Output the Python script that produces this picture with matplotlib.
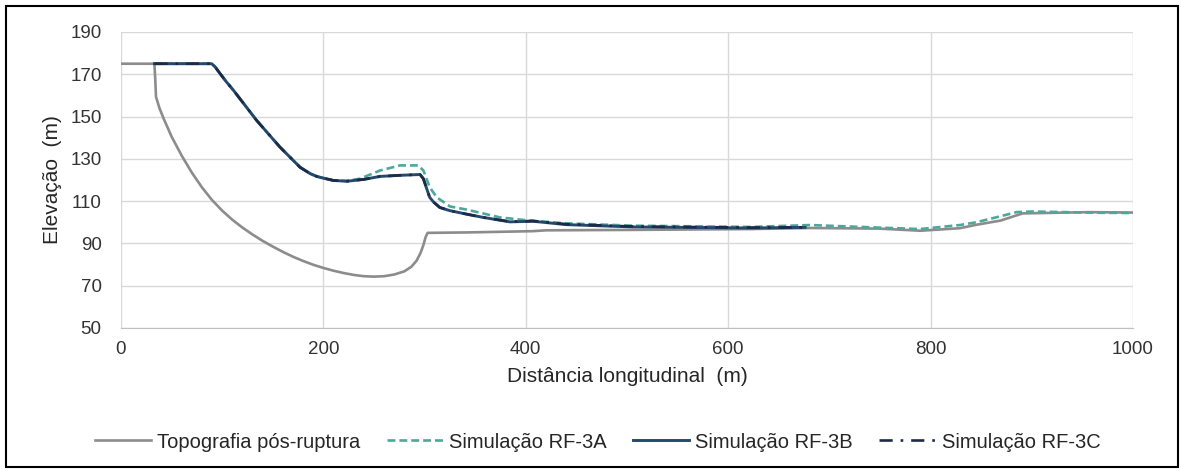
import matplotlib.pyplot as plt
from matplotlib.patches import Rectangle

plt.rcParams['font.family'] = ['Liberation Sans', 'DejaVu Sans']

# Topografia pós-ruptura
topo_x = [0, 33, 33.8, 34.6, 38, 42, 50, 60, 70, 80, 90, 100, 110, 120, 130, 140, 150, 160, 170,
          180, 190, 200, 210, 220, 230, 240, 250, 260, 270, 280, 287, 292, 296, 299, 301, 303,
          342, 407, 420, 506, 622, 681, 750, 790, 829, 845, 869, 891, 957, 1000]
topo_y = [175, 175, 168, 159.3, 154, 149.2, 140.5, 131.5, 123.5, 116.5, 110.5, 105.5, 101.2, 97.5,
          94.2, 91.2, 88.5, 86, 83.7, 81.7, 79.9, 78.4, 77.1, 76, 75.1, 74.5, 74.3, 74.5, 75.3, 76.8,
          79, 81.8, 85.5, 89.5, 93, 95, 95.2, 95.8, 96.2, 96.4, 96.8, 97.3, 97, 96, 97.2, 98.8,
          100.8, 104.2, 104.8, 104.6]

# Simulação RF-3A
a_x = [33, 89.6, 93, 97.8, 104, 111, 134, 157, 177, 187, 193.4, 199, 209.8, 223, 236, 256, 275.7,
       293.8, 298.8, 302, 305, 312, 325, 341.6, 374.5, 400, 440, 506, 622, 681, 737, 789.5, 829,
       845, 862, 885, 900, 967, 1000]
a_y = [175, 175, 173.5, 170.4, 166.5, 162.5, 148.2, 135.6, 126, 123, 121.7, 121, 119.8, 119.6, 120.6,
       124.5, 126.9, 126.9, 124.5, 120.5, 116.6, 111.8, 107.5, 106, 102.3, 101, 99.5, 98.4, 97.8,
       98.7, 97.7, 96.8, 98.7, 100, 102, 104.8, 105.1, 104.5, 104.4]

# Simulação RF-3B
b_x = [33, 89.6, 93, 97.8, 104, 111, 134, 157, 177, 187, 193.4, 199, 209.8, 223, 240, 256, 275,
       295.5, 298.8, 302, 305, 309, 315, 325, 342, 358, 384.4, 407, 440, 506, 622, 676]
b_y = [175, 175, 173.5, 170.4, 166.5, 162.5, 148.2, 135.6, 126, 123, 121.7, 121, 119.8, 119.4, 120.3,
       121.7, 122.2, 122.6, 120.6, 116, 111.8, 109.5, 107, 105.5, 103.8, 102.3, 100.2, 100.5, 98.9,
       97.8, 97.3, 97.6]

# Simulação RF-3C
c_x = [33, 89.6, 93, 97.8, 104, 111, 134, 157, 177, 187, 193.4, 199, 209.8, 223, 240, 256, 275,
       295.5, 298.8, 302, 305, 309, 315, 325, 342, 358, 384.4, 407, 440, 506, 622, 676]
c_y = [175, 175, 173.5, 170.4, 166.5, 162.5, 148.2, 135.6, 126, 123, 121.7, 121, 119.8, 119.4, 120.3,
       121.7, 122.2, 122.6, 120.6, 116, 111.8, 109.5, 107, 105.5, 103.8, 102.3, 100.3, 100.6, 99.1,
       98.0, 97.5, 97.6]

fig = plt.figure(figsize=(11.81, 4.70), dpi=100)
ax = fig.add_axes([121 / 1181, 1 - 328 / 470, (1133 - 121) / 1181, (328 - 32) / 470])

ax.plot(topo_x, topo_y, color='#8c8c8c', lw=1.9, label='Topografia pós-ruptura')
ax.plot(a_x, a_y, color='#4ea79b', lw=1.9, ls=(0, (3, 1.5)), label='Simulação RF-3A')
ax.plot(b_x, b_y, color='#24496c', lw=2.1, label='Simulação RF-3B')
ax.plot(c_x, c_y, color='#1c2a48', lw=1.9, ls=(0, (5, 3, 1, 3)), label='Simulação RF-3C')

ax.set_xlim(0, 1000)
ax.set_ylim(50, 190)
ax.set_xticks(range(0, 1001, 200))
ax.set_yticks(range(50, 191, 20))
ax.grid(True, color='#d9d9d9', lw=1)
ax.set_axisbelow(True)
for s in ['top', 'right', 'left']:
    ax.spines[s].set_visible(False)
ax.spines['bottom'].set_color('#bfbfbf')
ax.tick_params(length=0, labelsize=13.5, colors='#333333')
ax.tick_params(axis='x', pad=9)
ax.tick_params(axis='y', pad=14)

ax.set_xlabel('Distância longitudinal  (m)', fontsize=15, color='#262626', labelpad=7)
ax.set_ylabel('Elevação  (m)', fontsize=15, color='#262626', labelpad=6)

fig.legend(handles=ax.get_lines(), loc='center', bbox_to_anchor=(597.5 / 1181, 1 - 442 / 470),
           ncol=4, frameon=False, fontsize=14.5, handlelength=2.8, columnspacing=1.3,
           handletextpad=0.3, borderaxespad=0, labelcolor='#262626')

fig.patches.append(Rectangle((6 / 1181, 3 / 470), 1172 / 1181, 461 / 470, transform=fig.transFigure,
                             fill=False, edgecolor='black', lw=1.5))

fig.savefig('out.png', dpi=100)
